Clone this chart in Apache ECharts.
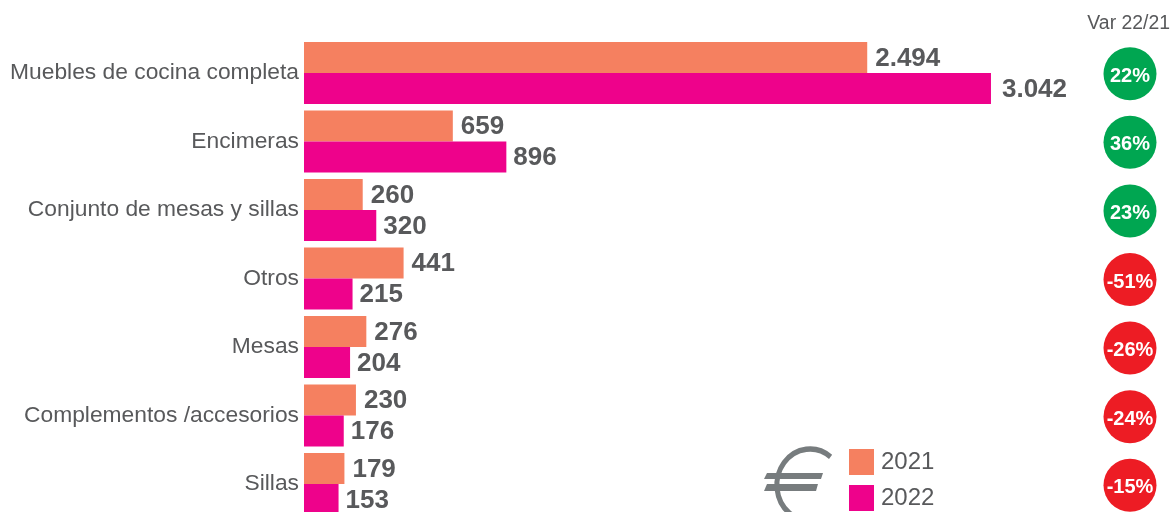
<!DOCTYPE html>
<html><head><meta charset="utf-8">
<style>html,body{margin:0;padding:0;background:#fff;overflow:hidden;height:512px}#c{width:1173px;height:560px}</style>
<script src="https://cdn.jsdelivr.net/npm/echarts@6/dist/echarts.min.js"></script>
</head><body><div id="c"></div>
<script>
const categories = ['Muebles de cocina completa','Encimeras','Conjunto de mesas y sillas','Otros','Mesas','Complementos /accesorios','Sillas'];
const values2021 = [2494,659,260,441,276,230,179];
const values2022 = [3042,896,320,215,204,176,153];
const variation = ['22%','36%','23%','-51%','-26%','-24%','-15%'];
const positive = '#00a651', negative = '#ed1c24';
const textColor = '#58595b', euroColor = '#777c7e';
const font = '"Liberation Sans", Arial, sans-serif';
const fmt = v => String(v).replace(/\B(?=(\d{3})+$)/g,'.');
const barLabel = {show:true,position:'right',distance:7,offset:[0,1],fontFamily:font,fontWeight:'bold',fontSize:26,color:textColor,formatter:p=>fmt(p.value)};
const chart = echarts.init(document.getElementById('c'),null,{renderer:'canvas'});
chart.setOption({
  animation:false,
  title:{text:'Var 22/21',right:3,top:14,padding:0,textStyle:{fontFamily:font,fontSize:19.4,fontWeight:'normal',color:textColor}},
  legend:{orient:'vertical',left:849,top:449,padding:0,itemWidth:25,itemHeight:26,itemGap:10,icon:'rect',
    data:['2021','2022'],textStyle:{fontFamily:font,fontSize:24,color:textColor,padding:[2,0,0,2]}},
  grid:[{left:304,top:38.75,width:869,height:479.5},{left:1103,top:39.5,width:54,height:480}],
  xAxis:[{type:'value',gridIndex:0,min:0,max:3848,show:false},
         {type:'category',gridIndex:1,data:['Var 22/21'],show:false}],
  yAxis:[{type:'category',gridIndex:0,inverse:true,data:categories,axisLine:{show:false},axisTick:{show:false},
          axisLabel:{fontFamily:font,fontSize:22.8,color:textColor,margin:5,padding:[4,0,0,0]}},
         {type:'category',gridIndex:1,inverse:true,data:categories,show:false}],
  series:[
    {name:'2021',type:'bar',data:values2021,barWidth:31,barGap:'0%',itemStyle:{color:'#f58060'},label:{...barLabel,distance:8}},
    {name:'2022',type:'bar',data:values2022.map((v,i)=>i===0?{value:v,label:{distance:11}}:v),barWidth:31,barGap:'0%',itemStyle:{color:'#ee028b'},label:barLabel},
    {name:'Var 22/21',type:'scatter',xAxisIndex:1,yAxisIndex:1,symbol:'circle',symbolSize:53,clip:false,
     data:variation.map((v,i)=>({value:[0,i],name:v,itemStyle:{color:v[0]==='-'?negative:positive,opacity:1}})),
     label:{show:true,position:'inside',offset:[0,2.5],formatter:p=>p.name,fontFamily:font,fontSize:20,fontWeight:'bold',color:'#fff'}}
  ],
  graphic:[
    {type:'arc',x:810,y:485,scaleX:0.92,silent:true,shape:{cx:0,cy:0,r:36,startAngle:-0.9,endAngle:1.1,clockwise:false},
     style:{fill:'none',stroke:euroColor,lineWidth:5.5}},
    {type:'polygon',silent:true,shape:{points:[[764,479],[767,473],[823,473],[821,479]]},style:{fill:euroColor}},
    {type:'polygon',silent:true,shape:{points:[[764,491],[767,484],[818,484],[816,491]]},style:{fill:euroColor}}
  ]
});
</script></body></html>
